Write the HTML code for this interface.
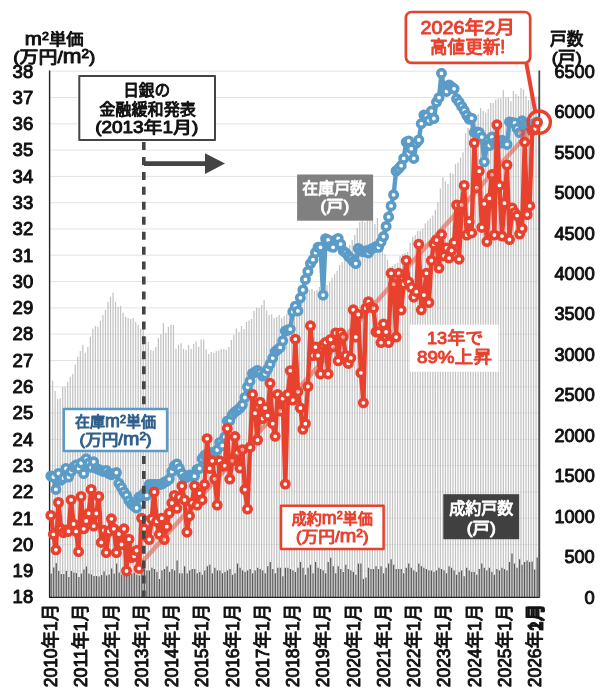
<!DOCTYPE html>
<html lang="ja"><head><meta charset="utf-8"><title>m²単価と戸数の推移</title>
<style>html,body{margin:0;padding:0;background:#fff}svg{display:block}</style></head>
<body>
<svg width="600" height="695" viewBox="0 0 600 695" font-family="'Liberation Sans','Noto Sans CJK JP',sans-serif" font-weight="normal" stroke-linejoin="round">
<style>text{paint-order:stroke fill}.k{stroke:#111;stroke-width:.95px}.r{stroke:#e8412e;stroke-width:.95px}.w{stroke:#fff;stroke-width:.95px}.b{stroke:#2f5f8c;stroke-width:.95px}</style>
<rect width="600" height="695" fill="#fff"/>
<path d="M49.6 570.9H539.8M49.6 544.6H539.8M49.6 518.2H539.8M49.6 492.0H539.8M49.6 465.6H539.8M49.6 439.4H539.8M49.6 413.1H539.8M49.6 386.8H539.8M49.6 360.5H539.8M49.6 334.1H539.8M49.6 307.9H539.8M49.6 281.6H539.8M49.6 255.2H539.8M49.6 229.0H539.8M49.6 202.7H539.8M49.6 176.4H539.8M49.6 150.1H539.8M49.6 123.8H539.8M49.6 97.5H539.8M49.6 71.2H539.8" stroke="#e3e3e3" stroke-width="1" fill="none"/>
<path d="M52.60 597.4V380.7M55.12 597.4V391.0M57.64 597.4V399.0M60.15 597.4V398.0M62.67 597.4V387.0M65.19 597.4V386.5M67.71 597.4V382.0M70.23 597.4V376.7M72.74 597.4V374.0M75.26 597.4V364.7M77.78 597.4V356.7M80.30 597.4V351.0M82.82 597.4V344.7M85.33 597.4V352.7M87.85 597.4V347.0M90.37 597.4V336.7M92.89 597.4V328.7M95.41 597.4V326.0M97.92 597.4V327.0M100.44 597.4V320.7M102.96 597.4V315.0M105.48 597.4V310.0M108.00 597.4V302.0M110.51 597.4V296.7M113.03 597.4V292.7M115.55 597.4V302.0M118.07 597.4V307.0M120.59 597.4V306.0M123.10 597.4V312.7M125.62 597.4V316.7M128.14 597.4V318.0M130.66 597.4V319.0M133.18 597.4V318.0M135.69 597.4V322.0M138.21 597.4V324.7M140.73 597.4V328.7M143.25 597.4V327.0M145.77 597.4V336.7M148.28 597.4V342.0M150.80 597.4V350.0M153.32 597.4V351.0M155.84 597.4V347.0M158.36 597.4V338.0M160.87 597.4V334.0M163.39 597.4V323.0M165.91 597.4V332.7M168.43 597.4V327.0M170.95 597.4V324.7M173.46 597.4V325.0M175.98 597.4V348.7M178.50 597.4V344.7M181.02 597.4V343.3M183.54 597.4V348.7M186.05 597.4V350.0M188.57 597.4V345.0M191.09 597.4V349.0M193.61 597.4V344.0M196.13 597.4V341.4M198.64 597.4V346.6M201.16 597.4V339.4M203.68 597.4V339.4M206.20 597.4V349.4M208.72 597.4V354.0M211.23 597.4V352.0M213.75 597.4V353.0M216.27 597.4V351.0M218.79 597.4V350.6M221.31 597.4V349.0M223.82 597.4V349.0M226.34 597.4V350.0M228.86 597.4V347.0M231.38 597.4V340.0M233.90 597.4V335.0M236.41 597.4V328.6M238.93 597.4V332.0M241.45 597.4V326.0M243.97 597.4V329.0M246.49 597.4V322.0M249.00 597.4V320.6M251.52 597.4V319.0M254.04 597.4V311.0M256.56 597.4V307.4M259.08 597.4V308.0M261.59 597.4V305.0M264.11 597.4V300.0M266.63 597.4V310.6M269.15 597.4V315.0M271.67 597.4V314.6M274.18 597.4V318.0M276.70 597.4V317.0M279.22 597.4V315.0M281.74 597.4V318.0M284.26 597.4V316.0M286.77 597.4V314.0M289.29 597.4V310.0M291.81 597.4V309.0M294.33 597.4V306.0M296.85 597.4V304.0M299.36 597.4V300.0M301.88 597.4V297.0M304.40 597.4V294.0M306.92 597.4V291.0M309.44 597.4V290.0M311.95 597.4V289.1M314.47 597.4V290.9M316.99 597.4V290.0M319.51 597.4V287.0M322.03 597.4V287.6M324.54 597.4V285.7M327.06 597.4V285.0M329.58 597.4V282.0M332.10 597.4V278.0M334.62 597.4V274.0M337.13 597.4V271.0M339.65 597.4V265.0M342.17 597.4V262.0M344.69 597.4V256.0M347.21 597.4V250.0M349.72 597.4V245.0M352.24 597.4V240.0M354.76 597.4V235.0M357.28 597.4V228.0M359.80 597.4V222.0M362.31 597.4V221.0M364.83 597.4V222.0M367.35 597.4V221.0M369.87 597.4V221.0M372.39 597.4V221.0M374.90 597.4V224.0M377.42 597.4V218.0M379.94 597.4V240.0M382.46 597.4V250.0M384.98 597.4V254.0M387.49 597.4V260.0M390.01 597.4V267.0M392.53 597.4V266.0M395.05 597.4V264.0M397.57 597.4V263.0M400.08 597.4V256.0M402.60 597.4V254.0M405.12 597.4V253.0M407.64 597.4V252.0M410.16 597.4V242.7M412.67 597.4V237.0M415.19 597.4V234.9M417.71 597.4V230.9M420.23 597.4V230.4M422.75 597.4V228.6M425.26 597.4V223.6M427.78 597.4V220.5M430.30 597.4V218.5M432.82 597.4V215.6M435.34 597.4V210.0M437.85 597.4V202.3M440.37 597.4V188.4M442.89 597.4V177.2M445.41 597.4V181.5M447.93 597.4V184.0M450.44 597.4V173.0M452.96 597.4V173.8M455.48 597.4V164.3M458.00 597.4V162.5M460.52 597.4V157.4M463.03 597.4V152.2M465.55 597.4V133.2M468.07 597.4V128.0M470.59 597.4V122.0M473.11 597.4V118.0M475.62 597.4V116.0M478.14 597.4V114.2M480.66 597.4V108.1M483.18 597.4V110.7M485.70 597.4V112.5M488.21 597.4V109.0M490.73 597.4V103.0M493.25 597.4V103.0M495.77 597.4V99.5M498.29 597.4V98.6M500.80 597.4V98.3M503.32 597.4V90.3M505.84 597.4V97.3M508.36 597.4V97.3M510.88 597.4V101.3M513.39 597.4V91.0M515.91 597.4V94.0M518.43 597.4V96.0M520.95 597.4V88.0M523.47 597.4V89.3M525.98 597.4V96.3M528.50 597.4V100.0M531.02 597.4V96.0M533.54 597.4V93.8M536.06 597.4V97.0M538.57 597.4V97.0" stroke="#c3c3c3" stroke-width="1.25" fill="none"/>
<path d="M51.20 597.4V573.4M53.72 597.4V567.4M56.24 597.4V562.9M58.75 597.4V570.9M61.27 597.4V573.9M63.79 597.4V573.9M66.31 597.4V570.9M68.83 597.4V576.9M71.34 597.4V570.9M73.86 597.4V572.4M76.38 597.4V572.9M78.90 597.4V576.9M81.42 597.4V573.4M83.93 597.4V569.4M86.45 597.4V566.4M88.97 597.4V573.4M91.49 597.4V574.4M94.01 597.4V575.9M96.52 597.4V575.9M99.04 597.4V576.4M101.56 597.4V574.9M104.08 597.4V571.4M106.60 597.4V575.4M109.11 597.4V574.4M111.63 597.4V568.4M114.15 597.4V573.4M116.67 597.4V563.4M119.19 597.4V572.4M121.70 597.4V574.4M124.22 597.4V575.4M126.74 597.4V570.4M129.26 597.4V571.4M131.78 597.4V573.4M134.29 597.4V572.4M136.81 597.4V574.4M139.33 597.4V575.4M141.85 597.4V570.5M144.37 597.4V569.1M146.88 597.4V570.5M149.40 597.4V570.5M151.92 597.4V567.7M154.44 597.4V569.1M156.96 597.4V571.9M159.47 597.4V579.0M161.99 597.4V570.5M164.51 597.4V569.1M167.03 597.4V566.2M169.55 597.4V571.9M172.06 597.4V569.1M174.58 597.4V570.5M177.10 597.4V560.6M179.62 597.4V573.3M182.14 597.4V573.3M184.65 597.4V566.2M187.17 597.4V573.3M189.69 597.4V570.5M192.21 597.4V569.1M194.73 597.4V569.1M197.24 597.4V573.3M199.76 597.4V571.9M202.28 597.4V574.7M204.80 597.4V570.5M207.32 597.4V566.2M209.83 597.4V564.8M212.35 597.4V573.3M214.87 597.4V567.7M217.39 597.4V570.5M219.91 597.4V570.5M222.42 597.4V573.3M224.94 597.4V571.9M227.46 597.4V570.5M229.98 597.4V569.1M232.50 597.4V574.7M235.01 597.4V573.3M237.53 597.4V563.4M240.05 597.4V567.7M242.57 597.4V570.5M245.09 597.4V571.9M247.60 597.4V570.5M250.12 597.4V569.1M252.64 597.4V573.3M255.16 597.4V570.5M257.68 597.4V567.7M260.19 597.4V569.1M262.71 597.4V570.5M265.23 597.4V573.3M267.75 597.4V566.2M270.27 597.4V562.0M272.78 597.4V569.1M275.30 597.4V573.3M277.82 597.4V567.7M280.34 597.4V567.7M282.86 597.4V576.2M285.37 597.4V567.7M287.89 597.4V567.7M290.41 597.4V569.1M292.93 597.4V570.5M295.45 597.4V571.9M297.96 597.4V567.7M300.48 597.4V562.0M303.00 597.4V567.7M305.52 597.4V574.7M308.04 597.4V567.7M310.55 597.4V564.8M313.07 597.4V573.3M315.59 597.4V562.0M318.11 597.4V567.7M320.63 597.4V569.1M323.14 597.4V570.5M325.66 597.4V573.3M328.18 597.4V562.0M330.70 597.4V557.7M333.22 597.4V566.2M335.73 597.4V573.3M338.25 597.4V566.2M340.77 597.4V569.1M343.29 597.4V571.9M345.81 597.4V564.8M348.32 597.4V569.1M350.84 597.4V570.5M353.36 597.4V571.9M355.88 597.4V574.7M358.40 597.4V563.4M360.91 597.4V563.4M363.43 597.4V579.0M365.95 597.4V577.6M368.47 597.4V567.7M370.99 597.4V569.1M373.50 597.4V569.1M376.02 597.4V566.2M378.54 597.4V569.1M381.06 597.4V566.2M383.58 597.4V573.3M386.09 597.4V567.7M388.61 597.4V563.4M391.13 597.4V559.2M393.65 597.4V564.8M396.17 597.4V569.1M398.68 597.4V569.1M401.20 597.4V569.1M403.72 597.4V573.3M406.24 597.4V567.7M408.76 597.4V563.4M411.27 597.4V567.7M413.79 597.4V570.5M416.31 597.4V571.9M418.83 597.4V563.4M421.35 597.4V566.2M423.86 597.4V567.7M426.38 597.4V569.1M428.90 597.4V570.5M431.42 597.4V570.5M433.94 597.4V571.9M436.45 597.4V570.5M438.97 597.4V567.7M441.49 597.4V569.1M444.01 597.4V570.5M446.53 597.4V573.3M449.04 597.4V566.2M451.56 597.4V567.7M454.08 597.4V570.5M456.60 597.4V574.7M459.12 597.4V571.9M461.63 597.4V570.5M464.15 597.4V576.2M466.67 597.4V567.7M469.19 597.4V570.5M471.71 597.4V571.9M474.22 597.4V571.9M476.74 597.4V574.7M479.26 597.4V569.1M481.78 597.4V563.4M484.30 597.4V567.7M486.81 597.4V570.5M489.33 597.4V567.7M491.85 597.4V571.9M494.37 597.4V574.7M496.89 597.4V569.1M499.40 597.4V570.5M501.92 597.4V567.7M504.44 597.4V569.1M506.96 597.4V570.5M509.48 597.4V562.0M511.99 597.4V553.5M514.51 597.4V563.4M517.03 597.4V567.7M519.55 597.4V559.2M522.07 597.4V564.8M524.58 597.4V562.0M527.10 597.4V560.6M529.62 597.4V562.0M532.14 597.4V561.4M534.66 597.4V569.4M537.17 597.4V557.4" stroke="#5a5a5a" stroke-width="1.25" fill="none"/>
<path d="M49.6 70.6V597.4H539.8" stroke="#222" stroke-width="1.4" fill="none"/>
<path d="M539.3 70.4V597.4" stroke="#484848" stroke-width="1.8" fill="none"/>
<polyline points="50.9,476.0 53.4,477.0 55.9,489.4 58.5,473.4 61.0,480.2 63.5,478.1 66.0,468.4 68.5,477.0 71.1,471.5 73.6,467.1 76.1,465.0 78.6,468.4 81.1,463.1 83.7,473.6 86.2,458.7 88.7,463.1 91.2,467.3 93.7,461.8 96.3,468.4 98.8,469.4 101.3,470.5 103.8,471.5 106.3,470.5 108.9,473.6 111.4,474.7 113.9,473.6 116.4,472.6 118.9,483.3 121.5,487.5 124.0,492.0 126.5,495.4 129.0,500.7 131.5,504.1 134.1,506.2 136.6,508.0 139.1,497.2 141.6,495.9 144.1,493.3 146.7,495.4 149.2,484.6 151.7,484.6 154.2,484.6 156.7,484.6 159.3,484.6 161.8,484.1 164.3,482.3 166.8,481.2 169.3,479.1 171.9,471.5 174.4,465.8 176.9,463.9 179.4,468.4 181.9,473.6 184.5,478.1 187.0,477.0 189.5,474.9 192.0,476.2 194.5,476.2 197.1,469.4 199.6,468.4 202.1,458.7 204.6,455.3 207.1,453.9 209.7,453.1 212.2,452.6 214.7,452.1 217.2,450.0 219.7,442.4 222.3,445.5 224.8,436.9 227.3,421.1 229.8,420.6 232.3,414.6 234.9,411.9 237.4,410.1 239.9,408.0 242.4,404.8 244.9,397.5 247.5,387.0 250.0,381.2 252.5,373.4 255.0,372.0 257.5,370.5 260.1,372.6 262.6,376.0 265.1,373.9 267.6,369.2 270.1,364.2 272.7,358.1 275.2,351.6 277.7,349.5 280.2,347.4 282.7,340.8 285.3,331.1 287.8,330.0 290.3,329.2 292.8,311.7 295.3,306.2 297.9,310.9 300.4,297.8 302.9,289.9 305.4,279.4 307.9,271.5 310.5,263.6 313.0,259.7 315.5,252.6 318.0,247.3 320.5,247.3 323.1,295.1 325.6,238.7 328.1,240.0 330.6,246.3 333.1,247.3 335.7,240.0 338.2,238.4 340.7,244.2 343.2,250.8 345.7,252.9 348.3,256.0 350.8,258.4 353.3,261.5 355.8,263.6 358.3,248.4 360.9,250.8 363.4,251.8 365.9,250.8 368.4,252.9 370.9,249.2 373.5,247.9 376.0,246.6 378.5,247.3 381.0,242.1 383.5,236.6 386.1,226.4 388.6,216.9 391.1,205.9 393.6,194.8 396.1,171.0 398.7,168.6 401.2,165.7 403.7,158.4 406.2,142.1 408.7,141.0 411.3,148.7 413.8,158.4 416.3,143.1 418.8,140.0 421.3,123.7 423.9,115.1 426.4,116.1 428.9,120.6 431.4,111.1 433.9,118.5 436.5,102.2 439.0,97.7 441.5,73.3 444.0,89.1 446.5,91.4 449.1,84.9 451.6,87.0 454.1,88.8 456.6,98.8 459.1,102.2 461.7,106.4 464.2,110.3 466.7,115.3 469.2,119.2 471.7,118.2 474.3,132.4 476.8,131.9 479.3,132.6 481.8,137.1 484.3,161.8 486.9,145.5 489.4,145.5 491.9,137.1 494.4,142.9 496.9,141.6 499.5,143.4 502.0,140.3 504.5,142.9 507.0,144.4 509.5,121.9 512.1,122.4 514.6,122.9 517.1,128.4 519.6,132.6 522.1,120.8 524.7,123.2 527.2,124.5 529.7,127.1 532.2,124.5 534.7,123.2 537.3,121.9" fill="none" stroke="#5b9bc8" stroke-width="4.4" stroke-linejoin="round" stroke-linecap="round"/>
<g fill="#fff" stroke="#5b9bc8" stroke-width="3.6">
<circle cx="50.9" cy="476.0" r="3.7"/>
<circle cx="53.4" cy="477.0" r="3.7"/>
<circle cx="55.9" cy="489.4" r="3.7"/>
<circle cx="58.5" cy="473.4" r="3.7"/>
<circle cx="61.0" cy="480.2" r="3.7"/>
<circle cx="63.5" cy="478.1" r="3.7"/>
<circle cx="66.0" cy="468.4" r="3.7"/>
<circle cx="68.5" cy="477.0" r="3.7"/>
<circle cx="71.1" cy="471.5" r="3.7"/>
<circle cx="73.6" cy="467.1" r="3.7"/>
<circle cx="76.1" cy="465.0" r="3.7"/>
<circle cx="78.6" cy="468.4" r="3.7"/>
<circle cx="81.1" cy="463.1" r="3.7"/>
<circle cx="83.7" cy="473.6" r="3.7"/>
<circle cx="86.2" cy="458.7" r="3.7"/>
<circle cx="88.7" cy="463.1" r="3.7"/>
<circle cx="91.2" cy="467.3" r="3.7"/>
<circle cx="93.7" cy="461.8" r="3.7"/>
<circle cx="96.3" cy="468.4" r="3.7"/>
<circle cx="98.8" cy="469.4" r="3.7"/>
<circle cx="101.3" cy="470.5" r="3.7"/>
<circle cx="103.8" cy="471.5" r="3.7"/>
<circle cx="106.3" cy="470.5" r="3.7"/>
<circle cx="108.9" cy="473.6" r="3.7"/>
<circle cx="111.4" cy="474.7" r="3.7"/>
<circle cx="113.9" cy="473.6" r="3.7"/>
<circle cx="116.4" cy="472.6" r="3.7"/>
<circle cx="118.9" cy="483.3" r="3.7"/>
<circle cx="121.5" cy="487.5" r="3.7"/>
<circle cx="124.0" cy="492.0" r="3.7"/>
<circle cx="126.5" cy="495.4" r="3.7"/>
<circle cx="129.0" cy="500.7" r="3.7"/>
<circle cx="131.5" cy="504.1" r="3.7"/>
<circle cx="134.1" cy="506.2" r="3.7"/>
<circle cx="136.6" cy="508.0" r="3.7"/>
<circle cx="139.1" cy="497.2" r="3.7"/>
<circle cx="141.6" cy="495.9" r="3.7"/>
<circle cx="144.1" cy="493.3" r="3.7"/>
<circle cx="146.7" cy="495.4" r="3.7"/>
<circle cx="149.2" cy="484.6" r="3.7"/>
<circle cx="151.7" cy="484.6" r="3.7"/>
<circle cx="154.2" cy="484.6" r="3.7"/>
<circle cx="156.7" cy="484.6" r="3.7"/>
<circle cx="159.3" cy="484.6" r="3.7"/>
<circle cx="161.8" cy="484.1" r="3.7"/>
<circle cx="164.3" cy="482.3" r="3.7"/>
<circle cx="166.8" cy="481.2" r="3.7"/>
<circle cx="169.3" cy="479.1" r="3.7"/>
<circle cx="171.9" cy="471.5" r="3.7"/>
<circle cx="174.4" cy="465.8" r="3.7"/>
<circle cx="176.9" cy="463.9" r="3.7"/>
<circle cx="179.4" cy="468.4" r="3.7"/>
<circle cx="181.9" cy="473.6" r="3.7"/>
<circle cx="184.5" cy="478.1" r="3.7"/>
<circle cx="187.0" cy="477.0" r="3.7"/>
<circle cx="189.5" cy="474.9" r="3.7"/>
<circle cx="192.0" cy="476.2" r="3.7"/>
<circle cx="194.5" cy="476.2" r="3.7"/>
<circle cx="197.1" cy="469.4" r="3.7"/>
<circle cx="199.6" cy="468.4" r="3.7"/>
<circle cx="202.1" cy="458.7" r="3.7"/>
<circle cx="204.6" cy="455.3" r="3.7"/>
<circle cx="207.1" cy="453.9" r="3.7"/>
<circle cx="209.7" cy="453.1" r="3.7"/>
<circle cx="212.2" cy="452.6" r="3.7"/>
<circle cx="214.7" cy="452.1" r="3.7"/>
<circle cx="217.2" cy="450.0" r="3.7"/>
<circle cx="219.7" cy="442.4" r="3.7"/>
<circle cx="222.3" cy="445.5" r="3.7"/>
<circle cx="224.8" cy="436.9" r="3.7"/>
<circle cx="227.3" cy="421.1" r="3.7"/>
<circle cx="229.8" cy="420.6" r="3.7"/>
<circle cx="232.3" cy="414.6" r="3.7"/>
<circle cx="234.9" cy="411.9" r="3.7"/>
<circle cx="237.4" cy="410.1" r="3.7"/>
<circle cx="239.9" cy="408.0" r="3.7"/>
<circle cx="242.4" cy="404.8" r="3.7"/>
<circle cx="244.9" cy="397.5" r="3.7"/>
<circle cx="247.5" cy="387.0" r="3.7"/>
<circle cx="250.0" cy="381.2" r="3.7"/>
<circle cx="252.5" cy="373.4" r="3.7"/>
<circle cx="255.0" cy="372.0" r="3.7"/>
<circle cx="257.5" cy="370.5" r="3.7"/>
<circle cx="260.1" cy="372.6" r="3.7"/>
<circle cx="262.6" cy="376.0" r="3.7"/>
<circle cx="265.1" cy="373.9" r="3.7"/>
<circle cx="267.6" cy="369.2" r="3.7"/>
<circle cx="270.1" cy="364.2" r="3.7"/>
<circle cx="272.7" cy="358.1" r="3.7"/>
<circle cx="275.2" cy="351.6" r="3.7"/>
<circle cx="277.7" cy="349.5" r="3.7"/>
<circle cx="280.2" cy="347.4" r="3.7"/>
<circle cx="282.7" cy="340.8" r="3.7"/>
<circle cx="285.3" cy="331.1" r="3.7"/>
<circle cx="287.8" cy="330.0" r="3.7"/>
<circle cx="290.3" cy="329.2" r="3.7"/>
<circle cx="292.8" cy="311.7" r="3.7"/>
<circle cx="295.3" cy="306.2" r="3.7"/>
<circle cx="297.9" cy="310.9" r="3.7"/>
<circle cx="300.4" cy="297.8" r="3.7"/>
<circle cx="302.9" cy="289.9" r="3.7"/>
<circle cx="305.4" cy="279.4" r="3.7"/>
<circle cx="307.9" cy="271.5" r="3.7"/>
<circle cx="310.5" cy="263.6" r="3.7"/>
<circle cx="313.0" cy="259.7" r="3.7"/>
<circle cx="315.5" cy="252.6" r="3.7"/>
<circle cx="318.0" cy="247.3" r="3.7"/>
<circle cx="320.5" cy="247.3" r="3.7"/>
<circle cx="323.1" cy="295.1" r="3.7"/>
<circle cx="325.6" cy="238.7" r="3.7"/>
<circle cx="328.1" cy="240.0" r="3.7"/>
<circle cx="330.6" cy="246.3" r="3.7"/>
<circle cx="333.1" cy="247.3" r="3.7"/>
<circle cx="335.7" cy="240.0" r="3.7"/>
<circle cx="338.2" cy="238.4" r="3.7"/>
<circle cx="340.7" cy="244.2" r="3.7"/>
<circle cx="343.2" cy="250.8" r="3.7"/>
<circle cx="345.7" cy="252.9" r="3.7"/>
<circle cx="348.3" cy="256.0" r="3.7"/>
<circle cx="350.8" cy="258.4" r="3.7"/>
<circle cx="353.3" cy="261.5" r="3.7"/>
<circle cx="355.8" cy="263.6" r="3.7"/>
<circle cx="358.3" cy="248.4" r="3.7"/>
<circle cx="360.9" cy="250.8" r="3.7"/>
<circle cx="363.4" cy="251.8" r="3.7"/>
<circle cx="365.9" cy="250.8" r="3.7"/>
<circle cx="368.4" cy="252.9" r="3.7"/>
<circle cx="370.9" cy="249.2" r="3.7"/>
<circle cx="373.5" cy="247.9" r="3.7"/>
<circle cx="376.0" cy="246.6" r="3.7"/>
<circle cx="378.5" cy="247.3" r="3.7"/>
<circle cx="381.0" cy="242.1" r="3.7"/>
<circle cx="383.5" cy="236.6" r="3.7"/>
<circle cx="386.1" cy="226.4" r="3.7"/>
<circle cx="388.6" cy="216.9" r="3.7"/>
<circle cx="391.1" cy="205.9" r="3.7"/>
<circle cx="393.6" cy="194.8" r="3.7"/>
<circle cx="396.1" cy="171.0" r="3.7"/>
<circle cx="398.7" cy="168.6" r="3.7"/>
<circle cx="401.2" cy="165.7" r="3.7"/>
<circle cx="403.7" cy="158.4" r="3.7"/>
<circle cx="406.2" cy="142.1" r="3.7"/>
<circle cx="408.7" cy="141.0" r="3.7"/>
<circle cx="411.3" cy="148.7" r="3.7"/>
<circle cx="413.8" cy="158.4" r="3.7"/>
<circle cx="416.3" cy="143.1" r="3.7"/>
<circle cx="418.8" cy="140.0" r="3.7"/>
<circle cx="421.3" cy="123.7" r="3.7"/>
<circle cx="423.9" cy="115.1" r="3.7"/>
<circle cx="426.4" cy="116.1" r="3.7"/>
<circle cx="428.9" cy="120.6" r="3.7"/>
<circle cx="431.4" cy="111.1" r="3.7"/>
<circle cx="433.9" cy="118.5" r="3.7"/>
<circle cx="436.5" cy="102.2" r="3.7"/>
<circle cx="439.0" cy="97.7" r="3.7"/>
<circle cx="441.5" cy="73.3" r="3.7"/>
<circle cx="444.0" cy="89.1" r="3.7"/>
<circle cx="446.5" cy="91.4" r="3.7"/>
<circle cx="449.1" cy="84.9" r="3.7"/>
<circle cx="451.6" cy="87.0" r="3.7"/>
<circle cx="454.1" cy="88.8" r="3.7"/>
<circle cx="456.6" cy="98.8" r="3.7"/>
<circle cx="459.1" cy="102.2" r="3.7"/>
<circle cx="461.7" cy="106.4" r="3.7"/>
<circle cx="464.2" cy="110.3" r="3.7"/>
<circle cx="466.7" cy="115.3" r="3.7"/>
<circle cx="469.2" cy="119.2" r="3.7"/>
<circle cx="471.7" cy="118.2" r="3.7"/>
<circle cx="474.3" cy="132.4" r="3.7"/>
<circle cx="476.8" cy="131.9" r="3.7"/>
<circle cx="479.3" cy="132.6" r="3.7"/>
<circle cx="481.8" cy="137.1" r="3.7"/>
<circle cx="484.3" cy="161.8" r="3.7"/>
<circle cx="486.9" cy="145.5" r="3.7"/>
<circle cx="489.4" cy="145.5" r="3.7"/>
<circle cx="491.9" cy="137.1" r="3.7"/>
<circle cx="494.4" cy="142.9" r="3.7"/>
<circle cx="496.9" cy="141.6" r="3.7"/>
<circle cx="499.5" cy="143.4" r="3.7"/>
<circle cx="502.0" cy="140.3" r="3.7"/>
<circle cx="504.5" cy="142.9" r="3.7"/>
<circle cx="507.0" cy="144.4" r="3.7"/>
<circle cx="509.5" cy="121.9" r="3.7"/>
<circle cx="512.1" cy="122.4" r="3.7"/>
<circle cx="514.6" cy="122.9" r="3.7"/>
<circle cx="517.1" cy="128.4" r="3.7"/>
<circle cx="519.6" cy="132.6" r="3.7"/>
<circle cx="522.1" cy="120.8" r="3.7"/>
<circle cx="524.7" cy="123.2" r="3.7"/>
<circle cx="527.2" cy="124.5" r="3.7"/>
<circle cx="529.7" cy="127.1" r="3.7"/>
<circle cx="532.2" cy="124.5" r="3.7"/>
<circle cx="534.7" cy="123.2" r="3.7"/>
<circle cx="537.3" cy="121.9" r="3.7"/>
</g>
<polyline points="50.9,515.4 53.4,534.3 55.9,549.8 58.5,502.5 61.0,528.8 63.5,532.7 66.0,530.1 68.5,531.4 71.1,499.9 73.6,524.0 76.1,531.4 78.6,551.6 81.1,496.5 83.7,528.8 86.2,520.9 88.7,513.3 91.2,489.4 93.7,526.1 96.3,513.5 98.8,496.5 101.3,542.4 103.8,530.3 106.3,552.6 108.9,531.4 111.4,518.8 113.9,528.8 116.4,552.6 118.9,534.0 121.5,544.5 124.0,528.8 126.5,571.0 129.0,539.2 131.5,557.6 134.1,556.3 136.6,550.5 139.1,568.4 141.6,518.2 144.1,528.8 146.7,536.6 149.2,539.5 151.7,519.0 154.2,492.0 156.7,521.4 159.3,534.3 161.8,518.2 164.3,539.5 166.8,526.7 169.3,513.0 171.9,503.0 174.4,495.4 176.9,508.3 179.4,497.2 181.9,486.0 184.5,499.9 187.0,532.2 189.5,515.9 192.0,503.0 194.5,486.0 197.1,505.1 199.6,493.3 202.1,499.9 204.6,484.6 207.1,438.7 209.7,468.4 212.2,460.8 214.7,479.1 217.2,505.1 219.7,460.8 222.3,466.3 224.8,465.8 227.3,428.5 229.8,479.1 232.3,460.8 234.9,436.6 237.4,452.9 239.9,468.1 242.4,449.7 244.9,489.6 247.5,509.1 250.0,447.4 252.5,394.4 255.0,413.2 257.5,440.0 260.1,402.2 262.6,418.5 265.1,408.0 267.6,415.6 270.1,383.3 272.7,423.7 275.2,436.3 277.7,394.4 280.2,410.9 282.7,398.6 285.3,484.1 287.8,394.4 290.3,370.7 292.8,400.1 295.3,339.2 297.9,391.7 300.4,408.0 302.9,429.3 305.4,423.7 307.9,386.5 310.5,325.8 313.0,355.5 315.5,347.1 318.0,355.5 320.5,373.9 323.1,345.0 325.6,342.4 328.1,373.9 330.6,339.5 333.1,346.8 335.7,332.9 338.2,360.8 340.7,332.9 343.2,337.1 345.7,355.5 348.3,363.4 350.8,357.9 353.3,309.8 355.8,337.1 358.3,314.5 360.9,372.8 363.4,402.8 365.9,308.2 368.4,301.7 370.9,306.9 373.5,308.2 376.0,331.9 378.5,331.9 381.0,342.6 383.5,324.0 386.1,331.9 388.6,342.6 391.1,273.3 393.6,284.1 396.1,337.1 398.7,273.3 401.2,310.1 403.7,284.1 406.2,260.5 408.7,282.0 411.3,287.5 413.8,297.2 416.3,291.7 418.8,244.2 421.3,309.8 423.9,295.1 426.4,273.3 428.9,302.5 431.4,260.5 433.9,244.2 436.5,240.0 439.0,268.1 441.5,234.5 444.0,255.8 446.5,247.9 449.1,258.1 451.6,250.5 454.1,242.6 456.6,205.1 459.1,259.2 461.7,205.1 464.2,185.4 466.7,235.0 469.2,221.6 471.7,232.9 474.3,143.1 476.8,187.8 479.3,171.2 481.8,227.4 484.3,203.8 486.9,241.6 489.4,198.3 491.9,174.6 494.4,235.0 496.9,124.8 499.5,185.4 502.0,236.1 504.5,203.2 507.0,164.9 509.5,239.5 512.1,208.0 514.6,212.4 517.1,215.6 519.6,234.0 522.1,228.5 524.7,142.1 527.2,214.5 529.7,205.9 532.2,130.5 534.7,129.2 537.3,122.7" fill="none" stroke="#e8412e" stroke-width="4.4" stroke-linejoin="round" stroke-linecap="round"/>
<g fill="#fff" stroke="#e8412e" stroke-width="3.6">
<circle cx="50.9" cy="515.4" r="3.7"/>
<circle cx="53.4" cy="534.3" r="3.7"/>
<circle cx="55.9" cy="549.8" r="3.7"/>
<circle cx="58.5" cy="502.5" r="3.7"/>
<circle cx="61.0" cy="528.8" r="3.7"/>
<circle cx="63.5" cy="532.7" r="3.7"/>
<circle cx="66.0" cy="530.1" r="3.7"/>
<circle cx="68.5" cy="531.4" r="3.7"/>
<circle cx="71.1" cy="499.9" r="3.7"/>
<circle cx="73.6" cy="524.0" r="3.7"/>
<circle cx="76.1" cy="531.4" r="3.7"/>
<circle cx="78.6" cy="551.6" r="3.7"/>
<circle cx="81.1" cy="496.5" r="3.7"/>
<circle cx="83.7" cy="528.8" r="3.7"/>
<circle cx="86.2" cy="520.9" r="3.7"/>
<circle cx="88.7" cy="513.3" r="3.7"/>
<circle cx="91.2" cy="489.4" r="3.7"/>
<circle cx="93.7" cy="526.1" r="3.7"/>
<circle cx="96.3" cy="513.5" r="3.7"/>
<circle cx="98.8" cy="496.5" r="3.7"/>
<circle cx="101.3" cy="542.4" r="3.7"/>
<circle cx="103.8" cy="530.3" r="3.7"/>
<circle cx="106.3" cy="552.6" r="3.7"/>
<circle cx="108.9" cy="531.4" r="3.7"/>
<circle cx="111.4" cy="518.8" r="3.7"/>
<circle cx="113.9" cy="528.8" r="3.7"/>
<circle cx="116.4" cy="552.6" r="3.7"/>
<circle cx="118.9" cy="534.0" r="3.7"/>
<circle cx="121.5" cy="544.5" r="3.7"/>
<circle cx="124.0" cy="528.8" r="3.7"/>
<circle cx="126.5" cy="571.0" r="3.7"/>
<circle cx="129.0" cy="539.2" r="3.7"/>
<circle cx="131.5" cy="557.6" r="3.7"/>
<circle cx="134.1" cy="556.3" r="3.7"/>
<circle cx="136.6" cy="550.5" r="3.7"/>
<circle cx="139.1" cy="568.4" r="3.7"/>
<circle cx="141.6" cy="518.2" r="3.7"/>
<circle cx="144.1" cy="528.8" r="3.7"/>
<circle cx="146.7" cy="536.6" r="3.7"/>
<circle cx="149.2" cy="539.5" r="3.7"/>
<circle cx="151.7" cy="519.0" r="3.7"/>
<circle cx="154.2" cy="492.0" r="3.7"/>
<circle cx="156.7" cy="521.4" r="3.7"/>
<circle cx="159.3" cy="534.3" r="3.7"/>
<circle cx="161.8" cy="518.2" r="3.7"/>
<circle cx="164.3" cy="539.5" r="3.7"/>
<circle cx="166.8" cy="526.7" r="3.7"/>
<circle cx="169.3" cy="513.0" r="3.7"/>
<circle cx="171.9" cy="503.0" r="3.7"/>
<circle cx="174.4" cy="495.4" r="3.7"/>
<circle cx="176.9" cy="508.3" r="3.7"/>
<circle cx="179.4" cy="497.2" r="3.7"/>
<circle cx="181.9" cy="486.0" r="3.7"/>
<circle cx="184.5" cy="499.9" r="3.7"/>
<circle cx="187.0" cy="532.2" r="3.7"/>
<circle cx="189.5" cy="515.9" r="3.7"/>
<circle cx="192.0" cy="503.0" r="3.7"/>
<circle cx="194.5" cy="486.0" r="3.7"/>
<circle cx="197.1" cy="505.1" r="3.7"/>
<circle cx="199.6" cy="493.3" r="3.7"/>
<circle cx="202.1" cy="499.9" r="3.7"/>
<circle cx="204.6" cy="484.6" r="3.7"/>
<circle cx="207.1" cy="438.7" r="3.7"/>
<circle cx="209.7" cy="468.4" r="3.7"/>
<circle cx="212.2" cy="460.8" r="3.7"/>
<circle cx="214.7" cy="479.1" r="3.7"/>
<circle cx="217.2" cy="505.1" r="3.7"/>
<circle cx="219.7" cy="460.8" r="3.7"/>
<circle cx="222.3" cy="466.3" r="3.7"/>
<circle cx="224.8" cy="465.8" r="3.7"/>
<circle cx="227.3" cy="428.5" r="3.7"/>
<circle cx="229.8" cy="479.1" r="3.7"/>
<circle cx="232.3" cy="460.8" r="3.7"/>
<circle cx="234.9" cy="436.6" r="3.7"/>
<circle cx="237.4" cy="452.9" r="3.7"/>
<circle cx="239.9" cy="468.1" r="3.7"/>
<circle cx="242.4" cy="449.7" r="3.7"/>
<circle cx="244.9" cy="489.6" r="3.7"/>
<circle cx="247.5" cy="509.1" r="3.7"/>
<circle cx="250.0" cy="447.4" r="3.7"/>
<circle cx="252.5" cy="394.4" r="3.7"/>
<circle cx="255.0" cy="413.2" r="3.7"/>
<circle cx="257.5" cy="440.0" r="3.7"/>
<circle cx="260.1" cy="402.2" r="3.7"/>
<circle cx="262.6" cy="418.5" r="3.7"/>
<circle cx="265.1" cy="408.0" r="3.7"/>
<circle cx="267.6" cy="415.6" r="3.7"/>
<circle cx="270.1" cy="383.3" r="3.7"/>
<circle cx="272.7" cy="423.7" r="3.7"/>
<circle cx="275.2" cy="436.3" r="3.7"/>
<circle cx="277.7" cy="394.4" r="3.7"/>
<circle cx="280.2" cy="410.9" r="3.7"/>
<circle cx="282.7" cy="398.6" r="3.7"/>
<circle cx="285.3" cy="484.1" r="3.7"/>
<circle cx="287.8" cy="394.4" r="3.7"/>
<circle cx="290.3" cy="370.7" r="3.7"/>
<circle cx="292.8" cy="400.1" r="3.7"/>
<circle cx="295.3" cy="339.2" r="3.7"/>
<circle cx="297.9" cy="391.7" r="3.7"/>
<circle cx="300.4" cy="408.0" r="3.7"/>
<circle cx="302.9" cy="429.3" r="3.7"/>
<circle cx="305.4" cy="423.7" r="3.7"/>
<circle cx="307.9" cy="386.5" r="3.7"/>
<circle cx="310.5" cy="325.8" r="3.7"/>
<circle cx="313.0" cy="355.5" r="3.7"/>
<circle cx="315.5" cy="347.1" r="3.7"/>
<circle cx="318.0" cy="355.5" r="3.7"/>
<circle cx="320.5" cy="373.9" r="3.7"/>
<circle cx="323.1" cy="345.0" r="3.7"/>
<circle cx="325.6" cy="342.4" r="3.7"/>
<circle cx="328.1" cy="373.9" r="3.7"/>
<circle cx="330.6" cy="339.5" r="3.7"/>
<circle cx="333.1" cy="346.8" r="3.7"/>
<circle cx="335.7" cy="332.9" r="3.7"/>
<circle cx="338.2" cy="360.8" r="3.7"/>
<circle cx="340.7" cy="332.9" r="3.7"/>
<circle cx="343.2" cy="337.1" r="3.7"/>
<circle cx="345.7" cy="355.5" r="3.7"/>
<circle cx="348.3" cy="363.4" r="3.7"/>
<circle cx="350.8" cy="357.9" r="3.7"/>
<circle cx="353.3" cy="309.8" r="3.7"/>
<circle cx="355.8" cy="337.1" r="3.7"/>
<circle cx="358.3" cy="314.5" r="3.7"/>
<circle cx="360.9" cy="372.8" r="3.7"/>
<circle cx="363.4" cy="402.8" r="3.7"/>
<circle cx="365.9" cy="308.2" r="3.7"/>
<circle cx="368.4" cy="301.7" r="3.7"/>
<circle cx="370.9" cy="306.9" r="3.7"/>
<circle cx="373.5" cy="308.2" r="3.7"/>
<circle cx="376.0" cy="331.9" r="3.7"/>
<circle cx="378.5" cy="331.9" r="3.7"/>
<circle cx="381.0" cy="342.6" r="3.7"/>
<circle cx="383.5" cy="324.0" r="3.7"/>
<circle cx="386.1" cy="331.9" r="3.7"/>
<circle cx="388.6" cy="342.6" r="3.7"/>
<circle cx="391.1" cy="273.3" r="3.7"/>
<circle cx="393.6" cy="284.1" r="3.7"/>
<circle cx="396.1" cy="337.1" r="3.7"/>
<circle cx="398.7" cy="273.3" r="3.7"/>
<circle cx="401.2" cy="310.1" r="3.7"/>
<circle cx="403.7" cy="284.1" r="3.7"/>
<circle cx="406.2" cy="260.5" r="3.7"/>
<circle cx="408.7" cy="282.0" r="3.7"/>
<circle cx="411.3" cy="287.5" r="3.7"/>
<circle cx="413.8" cy="297.2" r="3.7"/>
<circle cx="416.3" cy="291.7" r="3.7"/>
<circle cx="418.8" cy="244.2" r="3.7"/>
<circle cx="421.3" cy="309.8" r="3.7"/>
<circle cx="423.9" cy="295.1" r="3.7"/>
<circle cx="426.4" cy="273.3" r="3.7"/>
<circle cx="428.9" cy="302.5" r="3.7"/>
<circle cx="431.4" cy="260.5" r="3.7"/>
<circle cx="433.9" cy="244.2" r="3.7"/>
<circle cx="436.5" cy="240.0" r="3.7"/>
<circle cx="439.0" cy="268.1" r="3.7"/>
<circle cx="441.5" cy="234.5" r="3.7"/>
<circle cx="444.0" cy="255.8" r="3.7"/>
<circle cx="446.5" cy="247.9" r="3.7"/>
<circle cx="449.1" cy="258.1" r="3.7"/>
<circle cx="451.6" cy="250.5" r="3.7"/>
<circle cx="454.1" cy="242.6" r="3.7"/>
<circle cx="456.6" cy="205.1" r="3.7"/>
<circle cx="459.1" cy="259.2" r="3.7"/>
<circle cx="461.7" cy="205.1" r="3.7"/>
<circle cx="464.2" cy="185.4" r="3.7"/>
<circle cx="466.7" cy="235.0" r="3.7"/>
<circle cx="469.2" cy="221.6" r="3.7"/>
<circle cx="471.7" cy="232.9" r="3.7"/>
<circle cx="474.3" cy="143.1" r="3.7"/>
<circle cx="476.8" cy="187.8" r="3.7"/>
<circle cx="479.3" cy="171.2" r="3.7"/>
<circle cx="481.8" cy="227.4" r="3.7"/>
<circle cx="484.3" cy="203.8" r="3.7"/>
<circle cx="486.9" cy="241.6" r="3.7"/>
<circle cx="489.4" cy="198.3" r="3.7"/>
<circle cx="491.9" cy="174.6" r="3.7"/>
<circle cx="494.4" cy="235.0" r="3.7"/>
<circle cx="496.9" cy="124.8" r="3.7"/>
<circle cx="499.5" cy="185.4" r="3.7"/>
<circle cx="502.0" cy="236.1" r="3.7"/>
<circle cx="504.5" cy="203.2" r="3.7"/>
<circle cx="507.0" cy="164.9" r="3.7"/>
<circle cx="509.5" cy="239.5" r="3.7"/>
<circle cx="512.1" cy="208.0" r="3.7"/>
<circle cx="514.6" cy="212.4" r="3.7"/>
<circle cx="517.1" cy="215.6" r="3.7"/>
<circle cx="519.6" cy="234.0" r="3.7"/>
<circle cx="522.1" cy="228.5" r="3.7"/>
<circle cx="524.7" cy="142.1" r="3.7"/>
<circle cx="527.2" cy="214.5" r="3.7"/>
<circle cx="529.7" cy="205.9" r="3.7"/>
<circle cx="532.2" cy="130.5" r="3.7"/>
<circle cx="534.7" cy="129.2" r="3.7"/>
<circle cx="537.3" cy="122.7" r="3.7"/>
</g>
<path d="M141.6 562.5L533 128" stroke="#e8412e" stroke-opacity="0.5" stroke-width="4.5" fill="none"/>
<path d="M528 127.5L516.5 131.5L523.5 138Z" fill="#e8412e" fill-opacity="0.6"/>
<path d="M143.8 142V597.4" stroke="#444" stroke-width="3.6" stroke-dasharray="8 6.95" fill="none"/>
<path d="M143.8 163.6H208" stroke="#444" stroke-width="4.6" fill="none"/>
<path d="M205 153.3L225 163.6L205 174Z" fill="#444"/>
<circle cx="539.2" cy="122.2" r="11.2" fill="none" stroke="#e8412e" stroke-width="3.3"/>
<rect x="79.3" y="76" width="135.7" height="64" fill="#fff" stroke="#444" stroke-width="2"/>
<text class="k" x="146.7" y="96.3" font-size="16" fill="#111" text-anchor="middle" textLength="47" lengthAdjust="spacingAndGlyphs">日銀の</text>
<text class="k" x="147.6" y="115" font-size="16" fill="#111" text-anchor="middle" textLength="96.7" lengthAdjust="spacingAndGlyphs">金融緩和発表</text>
<text class="k" x="146.7" y="133.2" font-size="16" fill="#111" text-anchor="middle" textLength="103" lengthAdjust="spacingAndGlyphs">(2013年1月)</text>
<rect x="297.1" y="174.5" width="76" height="46.2" fill="#808080"/>
<text class="w" x="334.2" y="194" font-size="16" fill="#fff" text-anchor="middle" textLength="63.7" lengthAdjust="spacingAndGlyphs">在庫戸数</text>
<text class="w" x="334.8" y="212.4" font-size="16" fill="#fff" text-anchor="middle" textLength="28.7" lengthAdjust="spacingAndGlyphs">(戸)</text>
<rect x="409.8" y="324.7" width="88.8" height="47.1" fill="#fff"/>
<text class="r" x="455.2" y="344.3" font-size="17" fill="#e8412e" text-anchor="middle" textLength="56.4" lengthAdjust="spacingAndGlyphs">13年で</text>
<text class="r" x="454.5" y="363.4" font-size="17" fill="#e8412e" text-anchor="middle" textLength="75" lengthAdjust="spacingAndGlyphs">89%上昇</text>
<rect x="63.8" y="409" width="103.3" height="42" fill="#fff" stroke="#5b9bc8" stroke-width="2.5"/>
<text class="b" x="115.5" y="427.3" font-size="15" fill="#2f5f8c" text-anchor="middle" textLength="81" lengthAdjust="spacingAndGlyphs">在庫<tspan font-size="17.8">m</tspan><tspan font-size="10.8" dy="-4.5">2</tspan><tspan dy="4.5">単価</tspan></text>
<text class="b" x="115.6" y="444.6" font-size="15" fill="#2f5f8c" text-anchor="middle" textLength="72" lengthAdjust="spacingAndGlyphs">(万円/<tspan font-size="17.8">m</tspan><tspan font-size="10.8" dy="-4.5">2</tspan><tspan dy="4.5">)</tspan></text>
<rect x="281" y="505.7" width="102.6" height="43.3" fill="#fff" stroke="#e8412e" stroke-width="2.5"/>
<text class="r" x="332.3" y="523.8" font-size="15" fill="#e8412e" text-anchor="middle" textLength="81" lengthAdjust="spacingAndGlyphs">成約<tspan font-size="17.8">m</tspan><tspan font-size="10.8" dy="-4.5">2</tspan><tspan dy="4.5">単価</tspan></text>
<text class="r" x="332.3" y="541.5" font-size="15" fill="#e8412e" text-anchor="middle" textLength="72.5" lengthAdjust="spacingAndGlyphs">(万円/<tspan font-size="17.8">m</tspan><tspan font-size="10.8" dy="-4.5">2</tspan><tspan dy="4.5">)</tspan></text>
<rect x="443.3" y="494.2" width="75.9" height="45" fill="#404040"/>
<text class="w" x="481.2" y="514.3" font-size="16" fill="#fff" text-anchor="middle" textLength="64" lengthAdjust="spacingAndGlyphs">成約戸数</text>
<text class="w" x="481.2" y="533.5" font-size="16" fill="#fff" text-anchor="middle" textLength="29" lengthAdjust="spacingAndGlyphs">(戸)</text>
<path d="M526.3 63L535.2 111.5" stroke="#e8412e" stroke-width="4" fill="none"/>
<rect x="405.9" y="12" width="124.3" height="50.8" rx="5.5" fill="#fff" stroke="#e8412e" stroke-width="2.7"/>
<text class="r" x="467.8" y="33.7" font-size="18" fill="#e8412e" text-anchor="middle" textLength="94.5" lengthAdjust="spacingAndGlyphs">2026年2月</text>
<text class="r" x="467.6" y="53.2" font-size="17.5" fill="#e8412e" text-anchor="middle" textLength="75" lengthAdjust="spacingAndGlyphs">高値更新!</text>
<text class="k" x="54.2" y="45.2" font-size="16" fill="#111" text-anchor="middle" textLength="58.7" lengthAdjust="spacingAndGlyphs"><tspan font-size="19.0">m</tspan><tspan font-size="11.5" dy="-4.8">2</tspan><tspan dy="4.8">単価</tspan></text>
<text class="k" x="54.3" y="63" font-size="16.5" fill="#111" text-anchor="middle" textLength="82.2" lengthAdjust="spacingAndGlyphs">(万円/<tspan font-size="19.6">m</tspan><tspan font-size="11.9" dy="-5.0">2</tspan><tspan dy="5.0">)</tspan></text>
<text class="k" x="566.7" y="44.7" font-size="17" fill="#111" text-anchor="middle" textLength="33.3" lengthAdjust="spacingAndGlyphs">戸数</text>
<text class="k" x="566.8" y="64" font-size="17" fill="#111" text-anchor="middle" textLength="30" lengthAdjust="spacingAndGlyphs">(戸)</text>
<text class="k" x="33.2" y="603.4" font-size="17.5" fill="#111" text-anchor="end" textLength="20.6" lengthAdjust="spacingAndGlyphs">18</text>
<text class="k" x="33.2" y="577.1" font-size="17.5" fill="#111" text-anchor="end" textLength="20.6" lengthAdjust="spacingAndGlyphs">19</text>
<text class="k" x="33.2" y="550.9" font-size="17.5" fill="#111" text-anchor="end" textLength="20.6" lengthAdjust="spacingAndGlyphs">20</text>
<text class="k" x="33.2" y="524.5" font-size="17.5" fill="#111" text-anchor="end" textLength="20.6" lengthAdjust="spacingAndGlyphs">21</text>
<text class="k" x="33.2" y="498.3" font-size="17.5" fill="#111" text-anchor="end" textLength="20.6" lengthAdjust="spacingAndGlyphs">22</text>
<text class="k" x="33.2" y="471.9" font-size="17.5" fill="#111" text-anchor="end" textLength="20.6" lengthAdjust="spacingAndGlyphs">23</text>
<text class="k" x="33.2" y="445.7" font-size="17.5" fill="#111" text-anchor="end" textLength="20.6" lengthAdjust="spacingAndGlyphs">24</text>
<text class="k" x="33.2" y="419.4" font-size="17.5" fill="#111" text-anchor="end" textLength="20.6" lengthAdjust="spacingAndGlyphs">25</text>
<text class="k" x="33.2" y="393.1" font-size="17.5" fill="#111" text-anchor="end" textLength="20.6" lengthAdjust="spacingAndGlyphs">26</text>
<text class="k" x="33.2" y="366.8" font-size="17.5" fill="#111" text-anchor="end" textLength="20.6" lengthAdjust="spacingAndGlyphs">27</text>
<text class="k" x="33.2" y="340.4" font-size="17.5" fill="#111" text-anchor="end" textLength="20.6" lengthAdjust="spacingAndGlyphs">28</text>
<text class="k" x="33.2" y="314.2" font-size="17.5" fill="#111" text-anchor="end" textLength="20.6" lengthAdjust="spacingAndGlyphs">29</text>
<text class="k" x="33.2" y="287.9" font-size="17.5" fill="#111" text-anchor="end" textLength="20.6" lengthAdjust="spacingAndGlyphs">30</text>
<text class="k" x="33.2" y="261.6" font-size="17.5" fill="#111" text-anchor="end" textLength="20.6" lengthAdjust="spacingAndGlyphs">31</text>
<text class="k" x="33.2" y="235.3" font-size="17.5" fill="#111" text-anchor="end" textLength="20.6" lengthAdjust="spacingAndGlyphs">32</text>
<text class="k" x="33.2" y="209.0" font-size="17.5" fill="#111" text-anchor="end" textLength="20.6" lengthAdjust="spacingAndGlyphs">33</text>
<text class="k" x="33.2" y="182.7" font-size="17.5" fill="#111" text-anchor="end" textLength="20.6" lengthAdjust="spacingAndGlyphs">34</text>
<text class="k" x="33.2" y="156.4" font-size="17.5" fill="#111" text-anchor="end" textLength="20.6" lengthAdjust="spacingAndGlyphs">35</text>
<text class="k" x="33.2" y="130.1" font-size="17.5" fill="#111" text-anchor="end" textLength="20.6" lengthAdjust="spacingAndGlyphs">36</text>
<text class="k" x="33.2" y="103.8" font-size="17.5" fill="#111" text-anchor="end" textLength="20.6" lengthAdjust="spacingAndGlyphs">37</text>
<text class="k" x="33.2" y="77.5" font-size="17.5" fill="#111" text-anchor="end" textLength="20.6" lengthAdjust="spacingAndGlyphs">38</text>
<text class="k" x="594.7" y="603.7" font-size="17.5" fill="#111" text-anchor="end" textLength="10.2" lengthAdjust="spacingAndGlyphs">0</text>
<text class="k" x="594.7" y="563.2" font-size="17.5" fill="#111" text-anchor="end" textLength="30.3" lengthAdjust="spacingAndGlyphs">500</text>
<text class="k" x="594.7" y="522.8" font-size="17.5" fill="#111" text-anchor="end" textLength="40.2" lengthAdjust="spacingAndGlyphs">1000</text>
<text class="k" x="594.7" y="482.3" font-size="17.5" fill="#111" text-anchor="end" textLength="40.2" lengthAdjust="spacingAndGlyphs">1500</text>
<text class="k" x="594.7" y="441.8" font-size="17.5" fill="#111" text-anchor="end" textLength="40.2" lengthAdjust="spacingAndGlyphs">2000</text>
<text class="k" x="594.7" y="401.4" font-size="17.5" fill="#111" text-anchor="end" textLength="40.2" lengthAdjust="spacingAndGlyphs">2500</text>
<text class="k" x="594.7" y="360.9" font-size="17.5" fill="#111" text-anchor="end" textLength="40.2" lengthAdjust="spacingAndGlyphs">3000</text>
<text class="k" x="594.7" y="320.4" font-size="17.5" fill="#111" text-anchor="end" textLength="40.2" lengthAdjust="spacingAndGlyphs">3500</text>
<text class="k" x="594.7" y="279.9" font-size="17.5" fill="#111" text-anchor="end" textLength="40.2" lengthAdjust="spacingAndGlyphs">4000</text>
<text class="k" x="594.7" y="239.5" font-size="17.5" fill="#111" text-anchor="end" textLength="40.2" lengthAdjust="spacingAndGlyphs">4500</text>
<text class="k" x="594.7" y="199.0" font-size="17.5" fill="#111" text-anchor="end" textLength="40.2" lengthAdjust="spacingAndGlyphs">5000</text>
<text class="k" x="594.7" y="158.5" font-size="17.5" fill="#111" text-anchor="end" textLength="40.2" lengthAdjust="spacingAndGlyphs">5500</text>
<text class="k" x="594.7" y="118.1" font-size="17.5" fill="#111" text-anchor="end" textLength="40.2" lengthAdjust="spacingAndGlyphs">6000</text>
<text class="k" x="594.7" y="77.6" font-size="17.5" fill="#111" text-anchor="end" textLength="40.2" lengthAdjust="spacingAndGlyphs">6500</text>
<text transform="translate(57.2 687.3) rotate(-90)" class="k" font-size="18" fill="#111" textLength="83.5" lengthAdjust="spacingAndGlyphs">2010年1月</text>
<text transform="translate(87.4 687.3) rotate(-90)" class="k" font-size="18" fill="#111" textLength="83.5" lengthAdjust="spacingAndGlyphs">2011年1月</text>
<text transform="translate(117.7 687.3) rotate(-90)" class="k" font-size="18" fill="#111" textLength="83.5" lengthAdjust="spacingAndGlyphs">2012年1月</text>
<text transform="translate(147.9 687.3) rotate(-90)" class="k" font-size="18" fill="#111" textLength="83.5" lengthAdjust="spacingAndGlyphs">2013年1月</text>
<text transform="translate(178.2 687.3) rotate(-90)" class="k" font-size="18" fill="#111" textLength="83.5" lengthAdjust="spacingAndGlyphs">2014年1月</text>
<text transform="translate(208.4 687.3) rotate(-90)" class="k" font-size="18" fill="#111" textLength="83.5" lengthAdjust="spacingAndGlyphs">2015年1月</text>
<text transform="translate(238.6 687.3) rotate(-90)" class="k" font-size="18" fill="#111" textLength="83.5" lengthAdjust="spacingAndGlyphs">2016年1月</text>
<text transform="translate(268.9 687.3) rotate(-90)" class="k" font-size="18" fill="#111" textLength="83.5" lengthAdjust="spacingAndGlyphs">2017年1月</text>
<text transform="translate(299.1 687.3) rotate(-90)" class="k" font-size="18" fill="#111" textLength="83.5" lengthAdjust="spacingAndGlyphs">2018年1月</text>
<text transform="translate(329.4 687.3) rotate(-90)" class="k" font-size="18" fill="#111" textLength="83.5" lengthAdjust="spacingAndGlyphs">2019年1月</text>
<text transform="translate(359.6 687.3) rotate(-90)" class="k" font-size="18" fill="#111" textLength="83.5" lengthAdjust="spacingAndGlyphs">2020年1月</text>
<text transform="translate(389.8 687.3) rotate(-90)" class="k" font-size="18" fill="#111" textLength="83.5" lengthAdjust="spacingAndGlyphs">2021年1月</text>
<text transform="translate(420.1 687.3) rotate(-90)" class="k" font-size="18" fill="#111" textLength="83.5" lengthAdjust="spacingAndGlyphs">2022年1月</text>
<text transform="translate(450.3 687.3) rotate(-90)" class="k" font-size="18" fill="#111" textLength="83.5" lengthAdjust="spacingAndGlyphs">2023年1月</text>
<text transform="translate(480.6 687.3) rotate(-90)" class="k" font-size="18" fill="#111" textLength="83.5" lengthAdjust="spacingAndGlyphs">2024年1月</text>
<text transform="translate(510.8 687.3) rotate(-90)" class="k" font-size="18" fill="#111" textLength="83.5" lengthAdjust="spacingAndGlyphs">2025年1月</text>
<text transform="translate(541.0 687.3) rotate(-90)" class="k" font-size="18" fill="#111" textLength="83.5" lengthAdjust="spacingAndGlyphs">2026年1月</text>
<text transform="translate(543.0 687.3) rotate(-90)" class="k" font-size="18" fill="#111" textLength="83.5" lengthAdjust="spacingAndGlyphs"><tspan fill-opacity="0" stroke-opacity="0">2026年</tspan>2月</text>
</svg>
</body></html>
